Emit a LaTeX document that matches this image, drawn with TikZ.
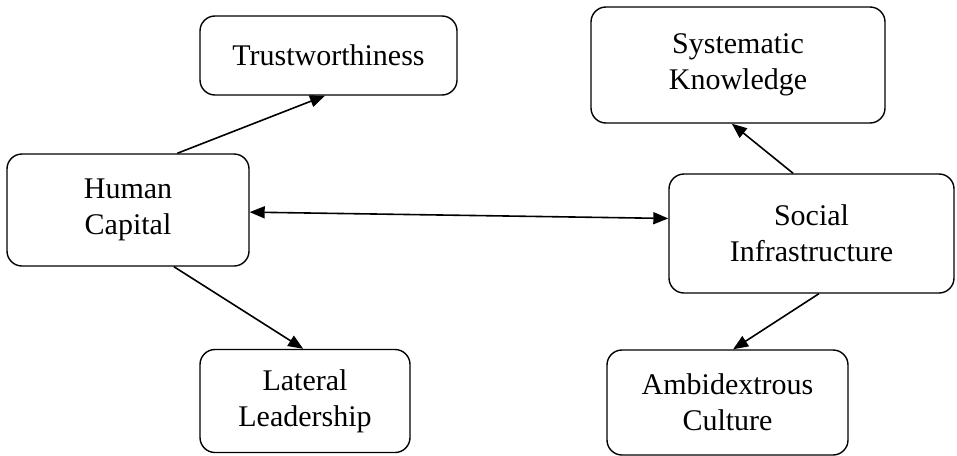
\documentclass[tikz,border=0pt]{standalone}
\usepackage{fontspec}
\setmainfont{Liberation Serif}
\usepackage{tikz}
\usetikzlibrary{arrows.meta, positioning}

\tikzset{
  factor/.style={draw, rounded corners=15pt, line width=1.4pt, align=center,
    inner sep=0pt, font=\fontsize{30}{36}\selectfont},
  link/.style={line width=1.6pt, -{Triangle[length=15pt,width=12pt]}}
}

\begin{document}
\begin{tikzpicture}[x=1pt,y=-1pt]
    \useasboundingbox (0,0) rectangle (957,455);

    \node[factor, minimum width=257pt, minimum height=79pt] (trust) at (328.5,55.5) {Trustworthiness};
    \node[factor, minimum width=242pt, minimum height=112pt] (human) at (128,210) {Human\\Capital};
    \node[factor, minimum width=210pt, minimum height=103pt] (lateral) at (305,401) {Lateral\\Leadership};

    \node[factor, minimum width=294pt, minimum height=116pt] (sysknow) at (738,65) {Systematic\\Knowledge};
    \node[factor, minimum width=285pt, minimum height=119pt] (social) at (811.5,233.5) {Social\\Infrastructure};
    \node[factor, minimum width=241pt, minimum height=105pt] (ambi) at (727.5,402.5) {Ambidextrous\\Culture};

    \draw[link] (human.49) -- (trust.265);
    \draw[link] (human.309) -- (lateral.92);
    \draw[link, {Triangle[length=15pt,width=12pt]}-{Triangle[length=15pt,width=12pt]}] (human.359) -- (social.174.6);

    \draw[link] (social.107.7) -- (sysknow.264);
    \draw[link] (social.277.7) -- (ambi.84);
  \end{tikzpicture}
\end{document}
